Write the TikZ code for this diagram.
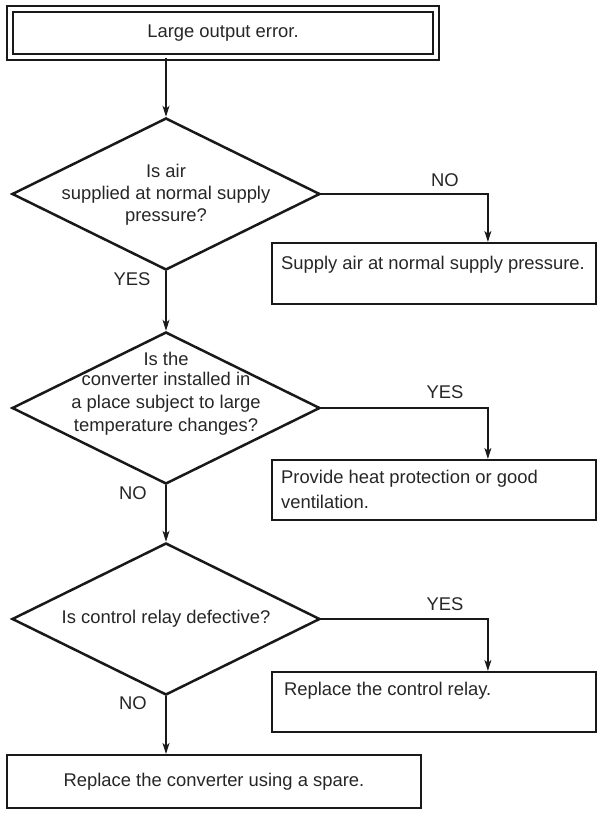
\documentclass[tikz,border=0pt]{standalone}
\usepackage{fontspec}
\setmainfont{Liberation Sans}
\usetikzlibrary{positioning, arrows.meta, calc, shapes.geometric}

\begin{document}
\begin{tikzpicture}[
    x=1pt, y=-1pt,
    >={Stealth[length=11pt, width=7pt, inset=3pt]},
    every node/.style = {font=\fontsize{18.4}{22}\selectfont, text=black!85},
    start/.style      = {rectangle, draw=black!90, double, line width=1.8pt,
                         double distance=4pt, minimum width=426pt,
                         minimum height=48pt, inner sep=0pt},
    test/.style       = {diamond, draw=black!90, line width=2.5pt, aspect=2,
                         minimum width=308pt, minimum height=152pt, inner sep=0pt},
    action/.style     = {rectangle, draw=black!90, line width=2.2pt,
                         minimum width=324pt, minimum height=60pt, inner sep=0pt},
    note/.style       = {anchor=north west, inner sep=0pt, align=left},
    tag/.style        = {inner sep=0pt},
    flow/.style       = {->, draw=black!90, line width=1.2pt}
]
\useasboundingbox (0,0) rectangle (597,813);

% Start
\node[start] (start) at (223,33) {Large output error.};

% Decisions
\node[test] (q1) at (166,194) {};
\node[align=center] (q1t) at (166,195)
    {Is air\\supplied at normal supply\\pressure?};
\node[test] (q2) at (166,408) {};
\node[align=center, font=\fontsize{18.4}{23}\selectfont] (q2t) at (166,394)
    {Is the\\[-3pt]converter installed in\\a place subject to large\\temperature changes?};
\node[test] (q3) at (166,619) {};
\node (q3t) at (166,619) {Is control relay defective?};

% Remedies
\node[action, minimum height=61pt] (b1) at (434,273.5) {};
\node[note] (b1t) at ($(b1.north west)+(10,14)$)
    {Supply air at normal supply pressure.};
\node[action] (b2) at (434,490) {};
\node[note, font=\fontsize{18.4}{25}\selectfont] (b2t) at ($(b2.north west)+(10,11)$)
    {Provide heat protection or good\\ventilation.};
\node[action] (b3) at (434,702) {};
\node[note] (b3t) at ($(b3.north west)+(13,11)$)
    {Replace the control relay.};
\node[action, minimum width=414pt, minimum height=53pt] (fix) at (214,781.5)
    {Replace the converter using a spare.};

% Main path
\draw[flow] (q1.north |- start.south) -- (q1.north);
\draw[flow] (q1.south) -- (q2.north);
\draw[flow] (q2.south) -- (q3.north);
\draw[flow] (q3.south) -- (q3.south |- fix.north);

% Branches
\draw[flow] (q1.east) -| ($(b1.north west)+(217,0)$);
\draw[flow] (q2.east) -| ($(b2.north west)+(217,0)$);
\draw[flow] (q3.east) -| ($(b3.north west)+(217,0)$);

% Answers
\node[tag] (yes1) at (132,279) {YES};
\node[tag] (no1)  at (445,180) {NO};
\node[tag] (no2)  at (133,493) {NO};
\node[tag] (yes2) at (445,392) {YES};
\node[tag] (no3)  at (133,703) {NO};
\node[tag] (yes3) at (445,604) {YES};

\end{tikzpicture}
\end{document}
